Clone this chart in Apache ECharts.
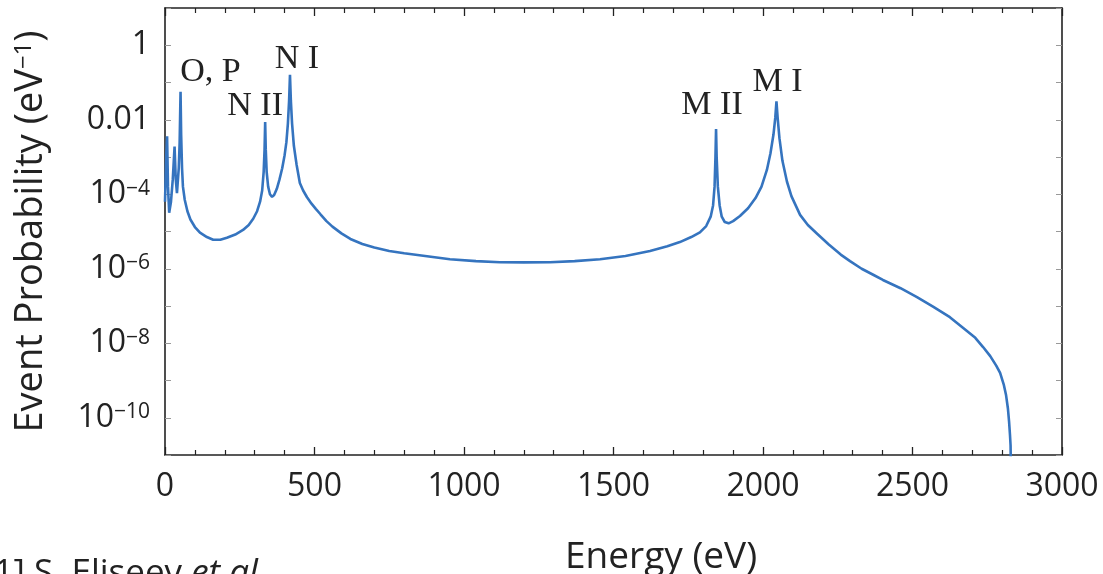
<!DOCTYPE html>
<html>
<head>
<meta charset="utf-8">
<script src="https://cdn.jsdelivr.net/npm/echarts@6/dist/echarts.min.js"></script>
<style>
html,body{margin:0;padding:0;background:#fff;}
#c{width:1103px;height:574px;}
</style>
</head>
<body>
<div id="c"></div>
<script>
// Energy (eV)
const energy = [0,4,7,10,14,20,26,32,36,40,46,49,52,54,57,60,66,75,85,100,117,140,161,185,207,235,261,280,295,308,318,325,330,333,335,337,340,345,351,358,365,374,383,392,400,406,411,415,418,421,425,431,440,451,462,475,490,505,520,540,560,590,620,660,700,750,800,870,953,1040,1120,1200,1288,1370,1455,1540,1622,1680,1722,1760,1789,1810,1825,1833,1838,1841,1843,1845,1849,1855,1862,1872,1885,1900,1923,1950,1975,1995,2013,2025,2035,2041,2045,2049,2055,2065,2080,2095,2124,2150,2181,2220,2260,2291,2330,2370,2401,2460,2515,2570,2625,2680,2710,2736,2760,2780,2793,2805,2813,2819,2823,2826,2828,2830];
// Event probability (eV^-1)
const probability = [6.3e-5,1.0e-3,3.6e-3,1.6e-4,3.2e-5,6.3e-5,2.5e-4,1.9e-3,2.5e-4,1.07e-4,5.0e-4,2.5e-3,5.6e-2,4.0e-3,5.0e-4,1.6e-4,7.1e-5,3.5e-5,2.1e-5,1.32e-5,9.3e-6,7.1e-6,6.0e-6,6.0e-6,6.8e-6,8.3e-6,1.1e-5,1.5e-5,2.2e-5,3.5e-5,6.3e-5,1.26e-4,4.0e-4,1.6e-3,8.7e-3,1.6e-3,4.0e-4,1.6e-4,1.0e-4,8.5e-5,9.5e-5,1.4e-4,2.5e-4,5.0e-4,1.12e-3,2.5e-3,7.9e-3,3.2e-2,1.6e-1,3.2e-2,7.9e-3,2.0e-3,6.3e-4,2.0e-4,1.26e-4,8.3e-5,5.6e-5,4.0e-5,2.9e-5,1.9e-5,1.35e-5,8.9e-6,6.3e-6,4.6e-6,3.7e-6,3.0e-6,2.6e-6,2.2e-6,1.8e-6,1.6e-6,1.5e-6,1.48e-6,1.5e-6,1.6e-6,1.8e-6,2.2e-6,3.0e-6,4.0e-6,5.2e-6,7.1e-6,9.5e-6,1.4e-5,2.5e-5,5.0e-5,1.6e-4,1.0e-3,5.6e-3,1.0e-3,1.6e-4,5.0e-5,2.5e-5,1.8e-5,1.66e-5,1.9e-5,2.6e-5,4.2e-5,7.9e-5,1.6e-4,4.5e-4,1.26e-3,4.0e-3,1.12e-2,3.1e-2,1.12e-2,3.2e-3,7.9e-4,2.2e-4,8.9e-5,2.8e-5,1.5e-5,8.7e-6,4.5e-6,2.4e-6,1.6e-6,1.0e-6,6.8e-7,5.0e-7,3.0e-7,1.74e-7,9.5e-8,5.0e-8,2.2e-8,1.4e-8,7.9e-9,4.5e-9,2.5e-9,1.6e-9,7.9e-10,4.0e-10,1.8e-10,7.9e-11,3.5e-11,1.8e-11,1e-12];
// Peak labels (shell names) and the peaks they mark
const peakNames = ['O, P','N II','N I','M II','M I'];
const peakEnergy = [52,335,418,1843,2045];
const peakProb = [5.6e-2,8.7e-3,1.6e-1,5.6e-3,3.1e-2];
// X tick labels
const xTicks = [0,500,1000,1500,2000,2500,3000];

const labelOffsets = [[30,-20],[-10,-16],[7,-16],[-4,-24],[1,-19]];

const chart = echarts.init(document.getElementById('c'), null, {renderer:'canvas'});
const seriesData = energy.map((e,i)=>[e, probability[i]]);

function yFmt(v){
  const e = Math.round(Math.log10(v));
  if (e % 2 !== 0) return '';
  if (e === 0) return '{b|1}';
  if (e === -2) return '{b|0.01}';
  return '{b|10}{s|\u2212' + (-e) + '}';
}

const axisCommon = {
  axisLine:{show:true, onZero:false, lineStyle:{color:'#222', width:1.6}},
  splitLine:{show:false}
};

chart.setOption({
  animation:false,
  backgroundColor:'#fff',
  grid:{left:165, right:41, top:8, bottom:119, containLabel:false},
  xAxis:[
    Object.assign({}, axisCommon, {
      type:'value', min:xTicks[0], max:xTicks[xTicks.length-1], interval:500, position:'bottom',
      axisTick:{show:true, inside:true, length:8, lineStyle:{color:'#222', width:1.3}},
      minorTick:{show:true, splitNumber:5, length:5, lineStyle:{color:'#222', width:1.2}},
      axisLabel:{show:true, margin:16, fontFamily:'Open Sans', fontSize:32, color:'#222',
        formatter: v => xTicks.indexOf(v) >= 0 ? String(v) : ''}
    }),
    Object.assign({}, axisCommon, {
      type:'value', min:xTicks[0], max:xTicks[xTicks.length-1], interval:500, position:'top',
      axisTick:{show:true, inside:true, length:8, lineStyle:{color:'#222', width:1.3}},
      minorTick:{show:true, splitNumber:5, length:5, lineStyle:{color:'#222', width:1.2}},
      axisLabel:{show:false}
    })
  ],
  yAxis:[
    Object.assign({}, axisCommon, {
      type:'log', logBase:10, min:1e-11, max:10, interval:1, position:'left',
      axisTick:{show:true, inside:true, length:6, lineStyle:{color:'#999', width:1}},
      axisLabel:{show:true, margin:15, formatter:yFmt,
        rich:{
          b:{fontFamily:'Open Sans', fontSize:32, color:'#222'},
          s:{fontFamily:'Open Sans', fontSize:21, color:'#222', verticalAlign:'top', padding:[0,0,8,0]}
        }},
      name:'{t|Event Probability (eV}{s|\u22121}{t|)}',
      nameLocation:'middle', nameGap:115, nameRotate:90,
      nameTextStyle:{rich:{
        t:{fontFamily:'Open Sans', fontSize:38, color:'#222'},
        s:{fontFamily:'Open Sans', fontSize:24, color:'#222', verticalAlign:'top', padding:[0,0,10,0]}
      }}
    }),
    Object.assign({}, axisCommon, {
      type:'log', logBase:10, min:1e-11, max:10, interval:1, position:'right',
      axisTick:{show:true, inside:true, length:6, lineStyle:{color:'#999', width:1}},
      axisLabel:{show:false}
    })
  ],
  graphic:[
    {type:'text', left:565, top:539, style:{text:'Energy (eV)', font:'37px "Open Sans"', fill:'#222'}},
    {type:'text', left:-18, top:557, style:{
      text:'{n|[1] S. Eliseev }{i|et al.}',
      rich:{n:{font:'35px "Open Sans"', fill:'#222'}, i:{font:'italic 35px "Open Sans"', fill:'#222'}}
    }}
  ],
  series:[{
    type:'line', xAxisIndex:0, yAxisIndex:0, data:seriesData, showSymbol:false, symbol:'none',
    smooth:false, clip:true,
    lineStyle:{color:'#3574bf', width:2.6},
    markPoint:{
      symbol:'circle', symbolSize:0,
      label:{show:true, position:'inside', fontFamily:'Liberation Serif', fontSize:34, color:'#222',
        formatter: p => p.name},
      data: peakNames.map((n,i)=>({name:n, coord:[peakEnergy[i], peakProb[i]], label:{offset:labelOffsets[i]}}))
    }
  }]
});
</script>
</body>
</html>
